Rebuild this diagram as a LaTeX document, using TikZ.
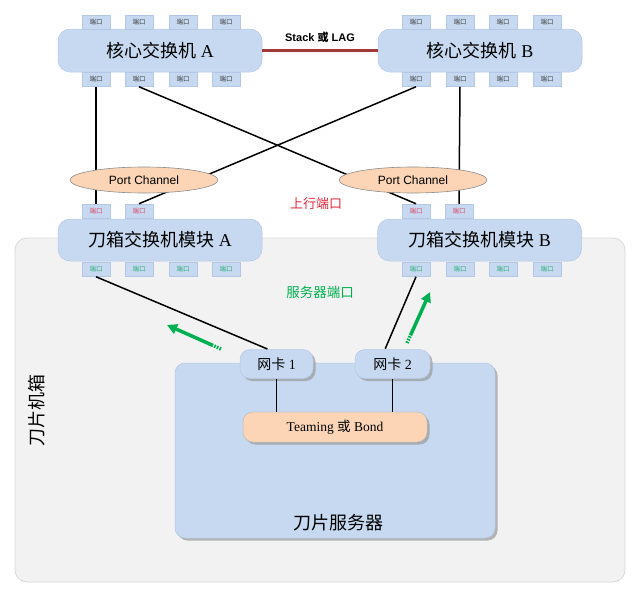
\documentclass[tikz,border=0pt]{standalone}
\usepackage{fontspec}
\setmainfont{Liberation Serif}
\newfontfamily\sansf{Liberation Sans}
\newfontfamily\cjk{Noto Sans CJK SC}
\usetikzlibrary{shapes.geometric,shadows,arrows.meta,calc}
\definecolor{swblue}{HTML}{C6D9F0}
\definecolor{swedge}{HTML}{B4C8E6}
\definecolor{peach}{HTML}{FBD5B5}
\definecolor{chfill}{HTML}{F2F2F2}
\definecolor{chedge}{HTML}{D9D9D9}
\definecolor{stackred}{HTML}{9E3B38}
\definecolor{upred}{HTML}{E02838}
\definecolor{srvgreen}{HTML}{00B050}
\definecolor{portred}{HTML}{E04868}
\definecolor{portgreen}{HTML}{2EAE78}
\definecolor{porttext}{HTML}{404040}
\tikzset{
  switchbox/.style={fill=swblue, draw=swedge, line width=0.5pt, rounded corners=12pt,
    minimum width=204pt, minimum height=43pt, inner sep=0pt,
    font=\fontsize{18}{20}\selectfont},
  portbox/.style={fill=swblue, draw=swedge, line width=0.5pt, minimum width=28pt,
    minimum height=14pt, inner sep=0pt, text=porttext,
    font=\cjk\fontsize{6.5}{7}\selectfont},
  link/.style={line width=1.5pt, black},
  pc/.style={ellipse, fill=peach, draw=black!45, line width=0.6pt, minimum width=148pt,
    minimum height=26pt, inner sep=0pt, font=\sansf\fontsize{12}{14}\selectfont},
  shad/.style={drop shadow={shadow xshift=2.5pt, shadow yshift=-2.5pt, fill=black!40, opacity=0.7}},
  nicbox/.style={shad, fill=swblue, draw=swedge, line width=0.5pt, rounded corners=10pt,
    minimum height=29pt, inner sep=0pt, font=\fontsize{14}{16}\selectfont},
  garrow/.style={line width=3.5pt, srvgreen},
}
\begin{document}
\begin{tikzpicture}[x=1pt,y=-1pt]
\useasboundingbox (0,0) rectangle (640,597);
% blade chassis
\node[fill=chfill, draw=chedge, line width=0.8pt, rounded corners=12pt,
  minimum width=610pt, minimum height=344pt, inner sep=0pt] (chassis) at (320,410) {};
\node[rotate=90, font=\cjk\fontsize{18}{20}\selectfont] (chlabel) at (37,410) {刀片机箱};
% core switches
\node[switchbox] (coreA) at (160,50.5) {{\cjk 核心交换机} A};
\node[switchbox] (coreB) at (480,50.5) {{\cjk 核心交换机} B};
\foreach \i/\x in {1/96,2/139,3/183,4/226}{
  \node[portbox] (cAt\i) at (\x,22) {端口};
  \node[portbox] (cAb\i) at (\x,79.5) {端口};
}
\foreach \i/\x in {1/416,2/460,3/503,4/547}{
  \node[portbox] (cBt\i) at (\x,22) {端口};
  \node[portbox] (cBb\i) at (\x,79.5) {端口};
}
% stack link
\draw[stackred, line width=3pt] (coreA.east) -- (coreB.west);
\node[font=\sansf\bfseries\fontsize{11}{13}\selectfont] (stacklabel) at (320,37) {Stack {\cjk 或} LAG};
% blade switch modules
\node[switchbox, minimum height=42pt] (bladeA) at (160,240) {{\cjk 刀箱交换机模块} A};
\node[switchbox, minimum height=42pt] (bladeB) at (479.5,240) {{\cjk 刀箱交换机模块} B};
\foreach \i/\x in {1/96,2/139}{
  \node[portbox, text=portred] (bAt\i) at (\x,211) {端口};
}
\foreach \i/\x in {1/416,2/459}{
  \node[portbox, text=portred] (bBt\i) at (\x,211) {端口};
}
\foreach \i/\x in {1/96,2/139,3/183,4/226}{
  \node[portbox, text=portgreen] (bAb\i) at (\x,269.5) {端口};
}
\foreach \i/\x in {1/416,2/460,3/503,4/547}{
  \node[portbox, text=portgreen] (bBb\i) at (\x,269.5) {端口};
}
% uplinks
\draw[link] (cAb1.south) -- (bAt1.north);
\draw[link] (cAb2.south) -- (bBt1.north);
\draw[link] (cBb1.south) -- (bAt2.north);
\draw[link] (cBb2.south) -- (bBt2.north);
\node[pc] (pcA) at (144,180) {Port Channel};
\node[pc] (pcB) at (413,180) {Port Channel};
\node[text=upred, font=\cjk\fontsize{13}{15}\selectfont] (uplabel) at (316,204) {上行端口};
\node[text=srvgreen, font=\cjk\fontsize{13.5}{15}\selectfont] (srvportlabel) at (320,292) {服务器端口};
% blade server
\node[shad, fill=swblue, draw=swedge, line width=0.5pt, rounded corners=10pt,
  minimum width=320pt, minimum height=175pt, inner sep=0pt] (srv) at (335,450.5) {};
\node[font=\cjk\fontsize{18}{20}\selectfont] (srvlabel) at (338,523) {刀片服务器};
\node[nicbox, minimum width=73pt] (nic1) at (276.5,364) {{\cjk 网卡} 1};
\node[nicbox, minimum width=75pt] (nic2) at (392.5,364) {{\cjk 网卡} 2};
\draw[link, shorten >=0.6pt] (bAb1.south) -- ($(nic1.north)+(-8.5,0)$);
\draw[link, shorten <=0.6pt] ($(nic2.north)+(-7.5,0)$) -- (bBb1.south);
\node[shad, fill=peach, draw=black!25, line width=0.5pt, rounded corners=10pt,
  minimum width=184pt, minimum height=30pt, inner sep=0pt,
  font=\fontsize{13.5}{15}\selectfont] (team) at (335,427) {Teaming {\cjk 或} Bond};
\draw[link] (nic1.south) -- (nic1.south |- team.north);
\draw[link] (nic2.south) -- (nic2.south |- team.north);
% green arrows
\coordinate (g1t) at (221,349);
\coordinate (g1h) at (167,325);
\coordinate (g2t) at (407,343);
\coordinate (g2h) at (430,292);
\draw[garrow, -{Triangle[length=10pt,width=10pt]}] ($(g1t)!0.15!(g1h)$) -- (g1h);
\draw[garrow, dash pattern=on 1.6pt off 1.3pt] (g1t) -- ($(g1t)!0.15!(g1h)$);
\draw[garrow, -{Triangle[length=10pt,width=10pt]}] ($(g2t)!0.15!(g2h)$) -- (g2h);
\draw[garrow, dash pattern=on 1.6pt off 1.3pt] (g2t) -- ($(g2t)!0.15!(g2h)$);
\end{tikzpicture}
\end{document}
